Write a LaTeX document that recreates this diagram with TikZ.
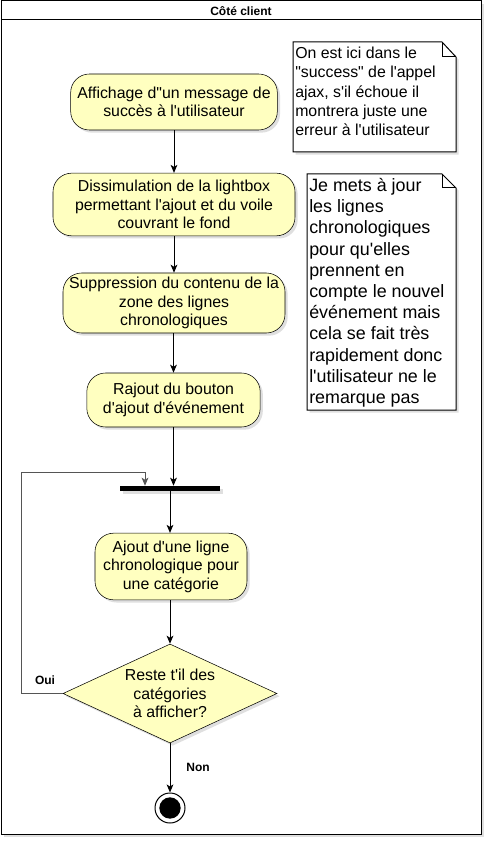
\documentclass[tikz,border=0pt]{standalone}
\usepackage{fontspec}
\setmainfont{Liberation Sans}[Ligatures=TeXReset]
\usetikzlibrary{shapes.geometric, arrows.meta, positioning, calc, shadows}
\definecolor{actyellow}{RGB}{255,255,192}
\definecolor{loopgray}{RGB}{85,85,85}

\begin{document}
\begin{tikzpicture}[x=0.75pt, y=-0.75pt,
    shade/.style={drop shadow={shadow xshift=2pt, shadow yshift=-2pt, opacity=0.25}},
    activity/.style={draw=black, fill=actyellow, rounded corners=14pt, align=center,
        inner sep=0pt, font=\fontsize{11.9}{13.8}\selectfont, shade},
    flow/.style={draw=black, line width=0.75pt, -{Stealth[length=6pt, width=5pt, inset=1.5pt]}},
    notetext/.style={anchor=north west, align=left, inner sep=0pt},
    guard/.style={font=\fontsize{9}{10}\selectfont\bfseries}]
    \useasboundingbox (0,0) rectangle (487,841);

    % Swimlane
    \draw[black, line width=0.75pt, fill=white, shade] (1,1) rectangle (481,834);
    \draw[black, line width=0.75pt] (1,20) -- (481,20);
    \node[font=\fontsize{9}{10}\selectfont\bfseries] (lane) at (241,11) {Côté client};

    % Activities
    \node[activity, minimum width=155pt, minimum height=42pt] (msg) at (174,102)
        {Affichage d"un message de\\succès à l'utilisateur};
    \node[activity, minimum width=181.5pt, minimum height=47pt] (hide) at (174,204.5)
        {Dissimulation de la lightbox\\permettant l'ajout et du voile\\couvrant le fond};
    \node[activity, minimum width=166.5pt, minimum height=45pt] (clear) at (174,303)
        {Suppression du contenu de la\\zone des lignes\\chronologiques};
    \node[activity, minimum width=130pt, minimum height=40.5pt] (button) at (173.5,400)
        {Rajout du bouton\\d'ajout d'événement};
    \node[fill=black, minimum width=75pt, minimum height=3.75pt, inner sep=0pt, shade] (bar) at (170,488.5) {};
    \node[activity, minimum width=114pt, minimum height=50pt] (line) at (171,566.5)
        {Ajout d'une ligne\\chronologique pour\\une catégorie};
    \node[draw=black, fill=actyellow, diamond, minimum width=160.5pt, minimum height=74.25pt,
        inner sep=0pt, shade,
        label={[align=center, font=\fontsize{11.9}{13.8}\selectfont]center:Reste t'il des\\catégories\\à afficher?}] (more) at (170,693.5) {};

    % End
    \node[draw=black, line width=0.75pt, circle, minimum size=22.5pt, inner sep=0pt, fill=white] (stop) at (170,808) {};
    \fill[black] (stop.center) circle (8pt);

    % Notes
    \draw[black, line width=0.75pt, fill=white, shade] (293,42) -- (442,42) -- (456,57) -- (456,152) -- (293,152) -- cycle;
    \draw[black, line width=0.75pt] (442,42) -- (442,57) -- (456,57);
    \node[notetext, font=\fontsize{11.9}{14.4}\selectfont] (note1) at (295,47)
        {On est ici dans le\\"success" de l'appel\\ajax, s'il échoue il\\montrera juste une\\erreur à l'utilisateur};
    \draw[black, line width=0.75pt, fill=white, shade] (307,174) -- (442,174) -- (456,188) -- (456,410) -- (307,410) -- cycle;
    \draw[black, line width=0.75pt] (442,174) -- (442,188) -- (456,188);
    \node[notetext, font=\fontsize{13.4}{15.9}\selectfont] (note2) at (309,178)
        {Je mets à jour\\les lignes\\chronologiques\\pour qu'elles\\prennent en\\compte le nouvel\\événement mais\\cela se fait très\\rapidement donc\\l'utilisateur ne le\\remarque pas};

    % Flow
    \draw[flow] (msg) -- (hide);
    \draw[flow] (hide) -- (clear);
    \draw[flow] (clear.south -| button) -- (button);
    \draw[flow] (button.south) -- (button.south |- bar.north);
    \draw[flow] (bar.south) -- (line.north -| bar.south);
    \draw[flow] (line.south -| more) -- (more.north);
    \coordinate (loop) at (21,472);
    \draw[flow, loopgray] (more.west) -| (loop) -| ($(bar.north)+(-25,0)$);
    \draw[flow] (more.south) -- (stop.north);

    % Guards
    \node[guard] (yes) at (45,680) {Oui};
    \node[guard] (no) at (198,767) {Non};
\end{tikzpicture}
\end{document}
